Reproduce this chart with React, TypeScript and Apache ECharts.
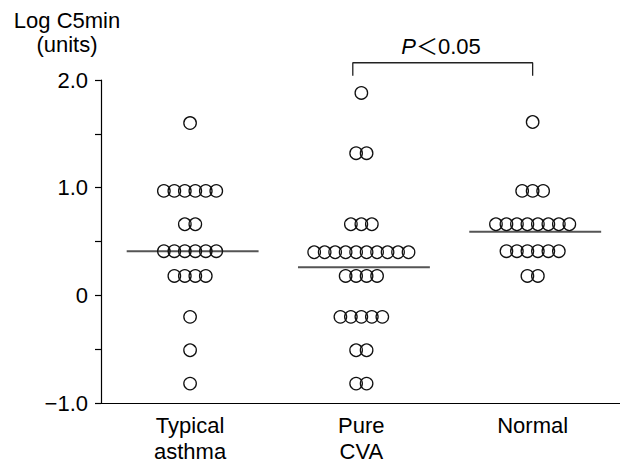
import React, { useEffect, useRef } from 'react';
import * as echarts from 'echarts';

const categories = ['Typical\nasthma', 'Pure\nCVA', 'Normal'];

const typicalValues = [1.6, 0.97, 0.66, 0.41, 0.18, -0.2, -0.51, -0.82];
const typicalCounts = [1, 6, 2, 6, 4, 1, 1, 1];

const cvaValues = [1.88, 1.32, 0.66, 0.4, 0.18, -0.2, -0.51, -0.82];
const cvaCounts = [1, 2, 3, 10, 4, 5, 2, 2];

const normalValues = [1.61, 0.97, 0.66, 0.41, 0.18];
const normalCounts = [1, 3, 8, 6, 2];

const means = [0.41, 0.26, 0.59];

const yTickLabels: Record<string, string> = { '2': '2.0', '1': '1.0', '0': '0', '-1': '−1.0' };

const bracketX = [0.95, 2.0];
const bracketY = [2.04, 2.16];

const FONT = '"Liberation Sans", Arial, Helvetica, sans-serif';

function buildPoints(values: number[], counts: number[], center: number, step: number) {
  const pts: number[][] = [];
  values.forEach((v, r) => {
    const n = counts[r];
    for (let j = 0; j < n; j++) pts.push([center + (j - (n - 1) / 2) * step, v]);
  });
  return pts;
}

export default function App() {
  const ref = useRef<HTMLDivElement>(null);
  useEffect(() => {
    if (!ref.current) return;
    const chart = echarts.init(ref.current, undefined, { renderer: 'svg' });
    const step = 0.0612;
    const groups = [
      buildPoints(typicalValues, typicalCounts, 0, step),
      buildPoints(cvaValues, cvaCounts, 1, step),
      buildPoints(normalValues, normalCounts, 2, step),
    ];
    const scatterSeries = groups.map((g) => ({
      type: 'scatter',
      data: g,
      symbol: 'circle',
      symbolSize: 12.5,
      itemStyle: { color: 'rgba(0,0,0,0)', borderColor: '#111', borderWidth: 1.3, opacity: 1 },
      z: 3,
    }));
    const meanSeries = means.map((m, i) => ({
      type: 'line',
      data: [[i - 0.37, m], [i + 0.4, m]],
      symbol: 'none',
      lineStyle: { color: '#555', width: 2 },
      z: 2,
    }));
    const bracket = {
      type: 'line',
      data: [
        [bracketX[0], bracketY[0]],
        [bracketX[0], bracketY[1]],
        [bracketX[1], bracketY[1]],
        [bracketX[1], bracketY[0]],
      ],
      symbol: 'none',
      clip: false,
      lineStyle: { color: '#222', width: 1.3 },
    };
    chart.setOption({
      animation: false,
      grid: { left: 101, top: 80, right: 0, bottom: 60, outerBoundsMode: 'none' },
      xAxis: {
        type: 'value',
        min: -0.52,
        max: 2.51,
        splitLine: { show: false },
        axisTick: { show: false },
        axisLine: { onZero: false, lineStyle: { color: '#000', width: 1.2 } },
        axisLabel: {
          customValues: [0, 1, 2],
          formatter: (v: number) => (Number.isInteger(v) && categories[v] ? categories[v] : ''),
          fontSize: 22,
          fontFamily: FONT,
          color: '#000',
          lineHeight: 26,
          margin: 9,
        },
      },
      yAxis: {
        type: 'value',
        min: -1,
        max: 2,
        interval: 0.5,
        splitLine: { show: false },
        axisLine: { show: true, onZero: false, lineStyle: { color: '#000', width: 1.2 } },
        axisTick: { show: true, length: 6, lineStyle: { color: '#000', width: 1.2 } },
        axisLabel: {
          formatter: (v: number) => yTickLabels[String(v)] ?? '',
          fontSize: 22,
          fontFamily: FONT,
          color: '#000',
          margin: 13,
        },
      },
      graphic: [
        {
          type: 'text',
          x: 67,
          y: 8,
          style: {
            text: 'Log C5min\n(units)',
            font: '22px ' + FONT,
            fill: '#000',
            align: 'center',
            verticalAlign: 'top',
            lineHeight: 24,
          },
        },
        {
          type: 'text',
          x: 441,
          y: 46,
          style: {
            text: '{i|P}{n|＜0.05}',
            align: 'center',
            verticalAlign: 'middle',
            fill: '#000',
            rich: {
              i: { fontStyle: 'italic', fontSize: 22, fontFamily: FONT, fill: '#000' },
              n: { fontSize: 22, fontFamily: FONT + ', "Noto Sans CJK JP"', fill: '#000' },
            },
          },
        },
      ],
      series: [...meanSeries, ...scatterSeries, bracket],
    });
    return () => chart.dispose();
  }, []);
  return <div ref={ref} style={{ position: 'absolute', left: 0, top: 0, width: 620, height: 463 }} />;
}
